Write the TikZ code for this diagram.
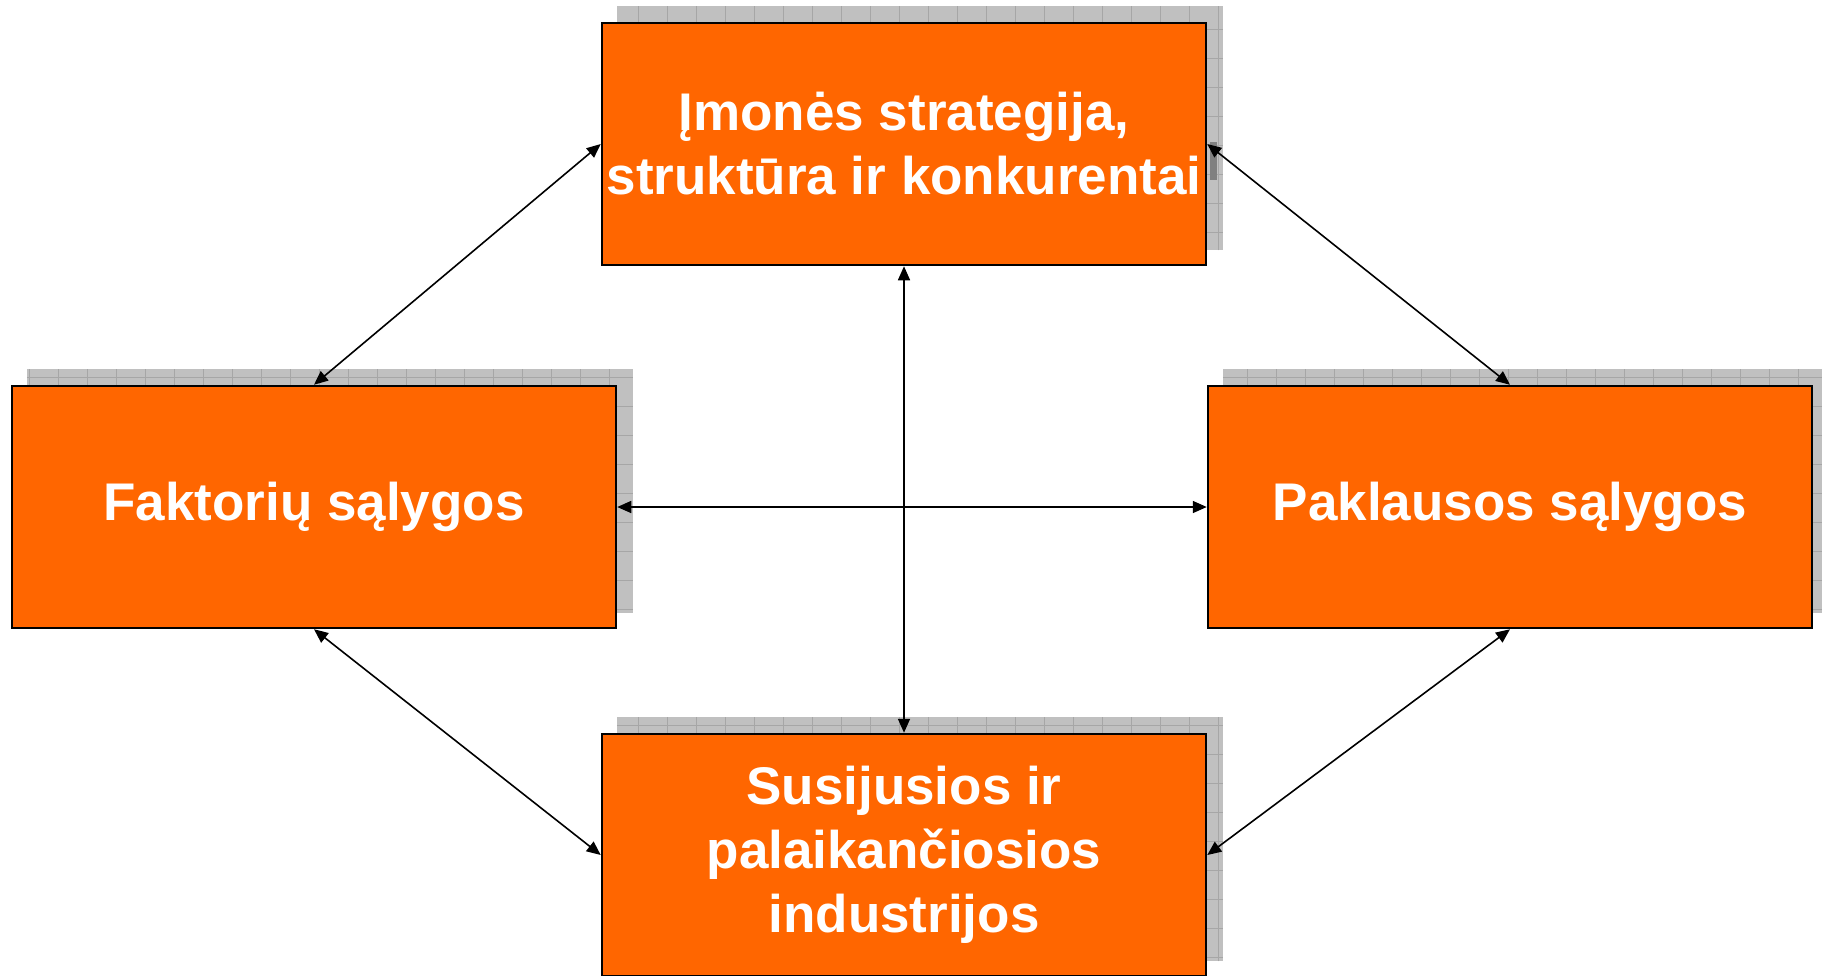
\documentclass[tikz,border=0pt]{standalone}
\usepackage{fontspec}
\setmainfont{Liberation Sans}
\usetikzlibrary{arrows.meta,backgrounds}
\definecolor{oranzine}{HTML}{FF6600}
\definecolor{seselis}{HTML}{C0C0C0}
\definecolor{tinklelis}{HTML}{A6A6A6}
\begin{document}
\begin{tikzpicture}[x=1pt,y=-1pt]
\tikzstyle{every node}=[draw=black,line width=2.5pt,fill=oranzine,shape=rectangle,
  minimum width=604pt,minimum height=242pt,inner sep=0pt,align=center,text=white,
  font=\fontsize{53}{64}\selectfont\bfseries];
\tikzstyle{rodykle}=[{Triangle[length=14pt,width=12pt]}-{Triangle[length=14pt,width=12pt]},line width=1.6pt];
\useasboundingbox (0,0) rectangle (1822,975);
\clip (0,0) rectangle (1822,975);
\node (imone)       at (904,144)  {Įmonės strategija,\\struktūra ir konkurentai};
\node (faktoriai)   at (314,507)  {Faktorių sąlygos};
\node (paklausa)    at (1510,507) {Paklausos sąlygos};
\node (industrijos) at (904,855)  {Susijusios ir\\palaikančiosios\\industrijos};
% seseliai su tinkleliu
\begin{scope}[on background layer]
\foreach \n in {imone,faktoriai,paklausa,industrijos}{
  \begin{scope}
  \clip ([shift={(16,-16)}]\n.south west) rectangle ([shift={(16,-16)}]\n.north east);
  \fill[seselis] ([shift={(16,-16)}]\n.south west) rectangle ([shift={(16,-16)}]\n.north east);
  \draw[tinklelis,line width=0.8pt,step=29pt] ([shift={(16,-16)}]\n.south west) grid ([shift={(16,-16)}]\n.north east);
  \end{scope}
}
\fill[gray] (1210,142) rectangle (1217,180);
\end{scope}
\draw[rodykle] (imone.west) -- (faktoriai.north);
\draw[rodykle] (imone.east) -- (paklausa.north);
\draw[rodykle] (faktoriai.east) -- (paklausa.west);
\draw[rodykle] (imone.south) -- (industrijos.north);
\draw[rodykle] (faktoriai.south) -- (industrijos.west);
\draw[rodykle] (paklausa.south) -- (industrijos.east);
\end{tikzpicture}
\end{document}
